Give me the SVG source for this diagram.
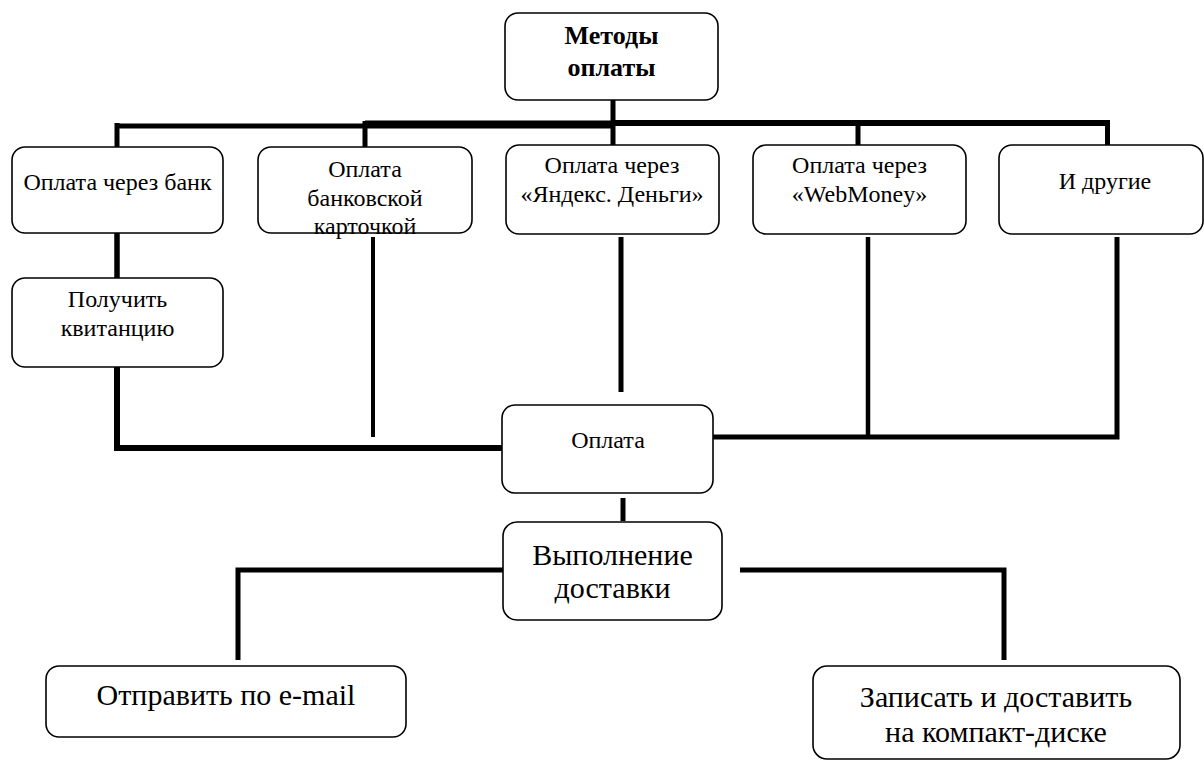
<svg xmlns="http://www.w3.org/2000/svg" width="1204" height="762" viewBox="0 0 1204 762">
<style>
.box{fill:#fff;stroke:#000;stroke-width:1.6}
.t{font-family:'Liberation Serif','DejaVu Serif',serif;fill:#000;text-anchor:middle}
.m{font-size:24px}
.l{font-size:30px}
.b{font-size:26px;font-weight:bold}
.c{stroke:#000;fill:none;stroke-linecap:butt}
</style>
<rect width="1204" height="762" fill="#fff"/>
<g id="connectors">
<line class="c" x1="117" y1="126" x2="365" y2="126" stroke-width="5"/>
<line class="c" x1="365" y1="124.5" x2="614" y2="124.5" stroke-width="8"/>
<line class="c" x1="612" y1="123" x2="1110" y2="123" stroke-width="6"/>
<line class="c" x1="613" y1="100" x2="613" y2="146" stroke-width="5"/>
<line class="c" x1="117" y1="123" x2="117" y2="147" stroke-width="5"/>
<line class="c" x1="365" y1="121" x2="365" y2="147" stroke-width="5"/>
<line class="c" x1="858" y1="120" x2="858" y2="146" stroke-width="5"/>
<line class="c" x1="1107.5" y1="120" x2="1107.5" y2="146" stroke-width="5"/>
<line class="c" x1="117" y1="233" x2="117" y2="278" stroke-width="5.5"/>
<polyline class="c" points="117,367 117,448 503,448" stroke-width="6"/>
<line class="c" x1="373" y1="237" x2="373" y2="437" stroke-width="4"/>
<line class="c" x1="621" y1="237" x2="621" y2="392" stroke-width="5"/>
<polyline class="c" points="713,437 1117,437 1117,237" stroke-width="5"/>
<line class="c" x1="868" y1="237" x2="868" y2="437" stroke-width="4.5"/>
<line class="c" x1="623" y1="498" x2="623" y2="521" stroke-width="5"/>
<polyline class="c" points="503,570 238,570 238,660" stroke-width="5"/>
<polyline class="c" points="740,570 1004,570 1004,660" stroke-width="5"/>
</g>
<g id="n-methods">
<rect class="box" x="505" y="13" width="213" height="87" rx="13"/>
<text class="t b" x="611.5" y="44">Методы</text>
<text class="t b" x="611.5" y="76">оплаты</text>
</g>
<g id="n-bank">
<rect class="box" x="12" y="147" width="211" height="86" rx="13"/>
<text class="t m" x="117.5" y="190">Оплата через банк</text>
</g>
<g id="n-card">
<rect class="box" x="258" y="147" width="214" height="86" rx="13"/>
<text class="t m" x="365" y="177">Оплата</text>
<text class="t m" x="365" y="206">банковской</text>
<text class="t m" x="365" y="234">карточкой</text>
</g>
<g id="n-yandex">
<rect class="box" x="506" y="145" width="213" height="89" rx="13"/>
<text class="t m" x="612" y="173">Оплата через</text>
<text class="t m" x="612" y="202">«Яндекс. Деньги»</text>
</g>
<g id="n-webmoney">
<rect class="box" x="753" y="145" width="213" height="89" rx="13"/>
<text class="t m" x="859.5" y="173">Оплата через</text>
<text class="t m" x="859.5" y="202">«WebMoney»</text>
</g>
<g id="n-other">
<rect class="box" x="999" y="145" width="204" height="89" rx="13"/>
<text class="t m" x="1105" y="189">И другие</text>
</g>
<g id="n-receipt">
<rect class="box" x="12" y="278" width="211" height="89" rx="13"/>
<text class="t m" x="117.5" y="307">Получить</text>
<text class="t m" x="117.5" y="336">квитанцию</text>
</g>
<g id="n-pay">
<rect class="box" x="502" y="405" width="211" height="88" rx="13"/>
<text class="t m" x="608" y="448">Оплата</text>
</g>
<g id="n-delivery">
<rect class="box" x="503" y="522" width="219" height="98" rx="14"/>
<text class="t l" x="612.5" y="565">Выполнение</text>
<text class="t l" x="612.5" y="598">доставки</text>
</g>
<g id="n-email">
<rect class="box" x="46" y="666" width="360" height="71" rx="13"/>
<text class="t l" x="226" y="705">Отправить по e-mail</text>
</g>
<g id="n-cd">
<rect class="box" x="813" y="666" width="367" height="93" rx="14"/>
<text class="t l" x="996" y="707">Записать и доставить</text>
<text class="t l" x="996" y="742">на компакт-диске</text>
</g>
</svg>
